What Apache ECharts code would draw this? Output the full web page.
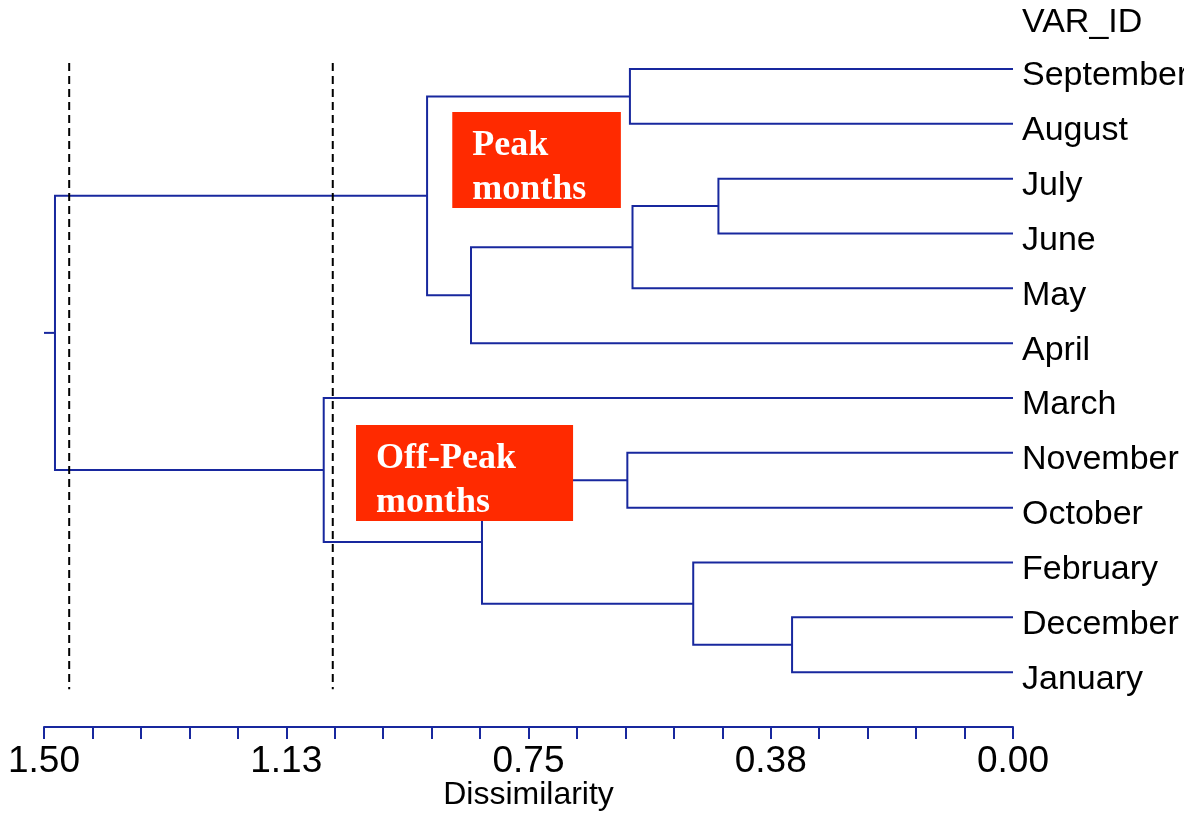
<!DOCTYPE html>
<html>
<head>
<meta charset="utf-8">
<script src="https://cdn.jsdelivr.net/npm/echarts@6/dist/echarts.min.js"></script>
<style>
  html, body { margin: 0; padding: 0; background: #fff; }
  #chart { width: 1184px; height: 814px; }
</style>
</head>
<body>
<div id="chart"></div>
<script>
// ---- data ----
const leaves = ['September', 'August', 'July', 'June', 'May', 'April', 'March', 'November', 'October', 'February', 'December', 'January'];
// merges: indices < 12 are leaves, >= 12 refer to earlier merges (12 + merge index)
const mergeLeft   = [10, 2, 9, 13, 0, 7, 17, 15, 16, 6, 20];
const mergeRight  = [11, 3, 12, 4, 1, 8, 14, 5, 19, 18, 21];
const mergeHeight = [0.342, 0.456, 0.495, 0.589, 0.593, 0.597, 0.822, 0.839, 0.907, 1.067, 1.483];
const rootEnd = 1.5;
const cutLevels = [1.461, 1.053];
const cutSpan = [-0.11, 11.31];
const tickLabels = ['0.00', '0.38', '0.75', '1.13', '1.50'];
const annoText = ['Peak\nmonths', 'Off-Peak\nmonths'];
const annoX = [[0.868, 0.607], [1.017, 0.681]];
const annoY = [[0.784, 2.536], [6.494, 8.245]];

// ---- build node positions ----
const nodeX = leaves.map(() => 0);
const nodeY = leaves.map((_, i) => i);
const linkData = [];
for (let k = 0; k < mergeHeight.length; k++) {
  const a = mergeLeft[k], b = mergeRight[k], h = mergeHeight[k];
  linkData.push([h, nodeY[a], nodeY[b], nodeX[a], nodeX[b]]);
  nodeX.push(h);
  nodeY.push((nodeY[a] + nodeY[b]) / 2);
}
const rootIdx = nodeX.length - 1;
const stubData = [[nodeX[rootIdx], rootEnd, nodeY[rootIdx]]];

const BLUE = '#18289e';
const chart = echarts.init(document.getElementById('chart'), null, { renderer: 'canvas' });

chart.setOption({
  animation: false,
  backgroundColor: '#ffffff',
  title: {
    text: 'VAR_ID', left: 1022, top: 6, padding: 0,
    textStyle: { fontFamily: 'Liberation Sans', fontSize: 34, fontWeight: 'normal', color: '#000' }
  },
  grid: { left: 44, right: 171, top: 69, bottom: 87, containLabel: false, outerBoundsMode: 'none' },
  xAxis: {
    type: 'value', inverse: true, min: 0, max: 1.5, interval: 0.075, position: 'bottom',
    axisLine: { show: true, onZero: false, lineStyle: { color: BLUE, width: 2 } },
    axisTick: { show: true, length: 12, lineStyle: { color: BLUE, width: 2 } },
    splitLine: { show: false },
    axisLabel: {
      margin: 16, color: '#000', fontFamily: 'Liberation Sans', fontSize: 37,
      formatter: function (v) {
        const r = v / 0.375, k = Math.round(r);
        return Math.abs(r - k) < 1e-6 ? tickLabels[k] : '';
      }
    },
    name: 'Dissimilarity', nameLocation: 'middle', nameGap: 52, nameMoveOverlap: false,
    nameTextStyle: { color: '#000', fontFamily: 'Liberation Sans', fontSize: 32 }
  },
  yAxis: {
    type: 'value', inverse: true, min: 0, max: 12, interval: 1, position: 'right',
    axisLine: { show: false, onZero: false }, axisTick: { show: false }, splitLine: { show: false },
    axisLabel: {
      margin: 9,
      formatter: function (v) { return leaves[v] ? '{n|' + leaves[v] + '}' : ''; },
      rich: {
        n: { color: '#000', fontFamily: 'Liberation Sans', fontSize: 34, padding: [14, 0, 0, 0] }
      }
    }
  },
  series: [
    {
      type: 'custom', clip: false, z: 2,
      data: linkData,
      encode: { x: [0, 3, 4], y: [1, 2] },
      renderItem: function (params, api) {
        const h = api.value(0), ya = api.value(1), yb = api.value(2), xa = api.value(3), xb = api.value(4);
        const pts = [api.coord([xa, ya]), api.coord([h, ya]), api.coord([h, yb]), api.coord([xb, yb])];
        return { type: 'polyline', shape: { points: pts }, style: { stroke: BLUE, lineWidth: 2, fill: null } };
      }
    },
    {
      type: 'custom', clip: false, z: 2,
      data: stubData,
      encode: { x: [0, 1], y: [2] },
      renderItem: function (params, api) {
        const p1 = api.coord([api.value(0), api.value(2)]), p2 = api.coord([api.value(1), api.value(2)]);
        return { type: 'line', shape: { x1: p1[0], y1: p1[1], x2: p2[0], y2: p2[1] }, style: { stroke: BLUE, lineWidth: 2 } };
      }
    },
    {
      type: 'custom', clip: false, z: 3,
      data: cutLevels.map(v => [v, cutSpan[0], cutSpan[1]]),
      encode: { x: [0], y: [1, 2] },
      renderItem: function (params, api) {
        const p1 = api.coord([api.value(0), api.value(1)]), p2 = api.coord([api.value(0), api.value(2)]);
        return { type: 'line', shape: { x1: p1[0], y1: p1[1], x2: p2[0], y2: p2[1] },
          style: { stroke: '#000', lineWidth: 2, lineDash: [8, 5] } };
      }
    },
    {
      type: 'custom', clip: false, z: 5,
      data: annoText.map((t, i) => [annoX[i][0], annoX[i][1], annoY[i][0], annoY[i][1], i]),
      encode: { x: [0, 1], y: [2, 3] },
      renderItem: function (params, api) {
        const p1 = api.coord([api.value(0), api.value(2)]), p2 = api.coord([api.value(1), api.value(3)]);
        const i = api.value(4);
        return {
          type: 'group',
          children: [
            { type: 'rect', shape: { x: p1[0], y: p1[1], width: p2[0] - p1[0], height: p2[1] - p1[1] },
              style: { fill: '#ff2a00' } },
            { type: 'text', x: p1[0] + 20, y: (p1[1] + p2[1]) / 2 + 8,
              style: { text: annoText[i], fill: '#fff', font: 'bold 36px "Liberation Serif"',
                lineHeight: 44, align: 'left', verticalAlign: 'middle' } }
          ]
        };
      }
    }
  ]
});
</script>
</body>
</html>
